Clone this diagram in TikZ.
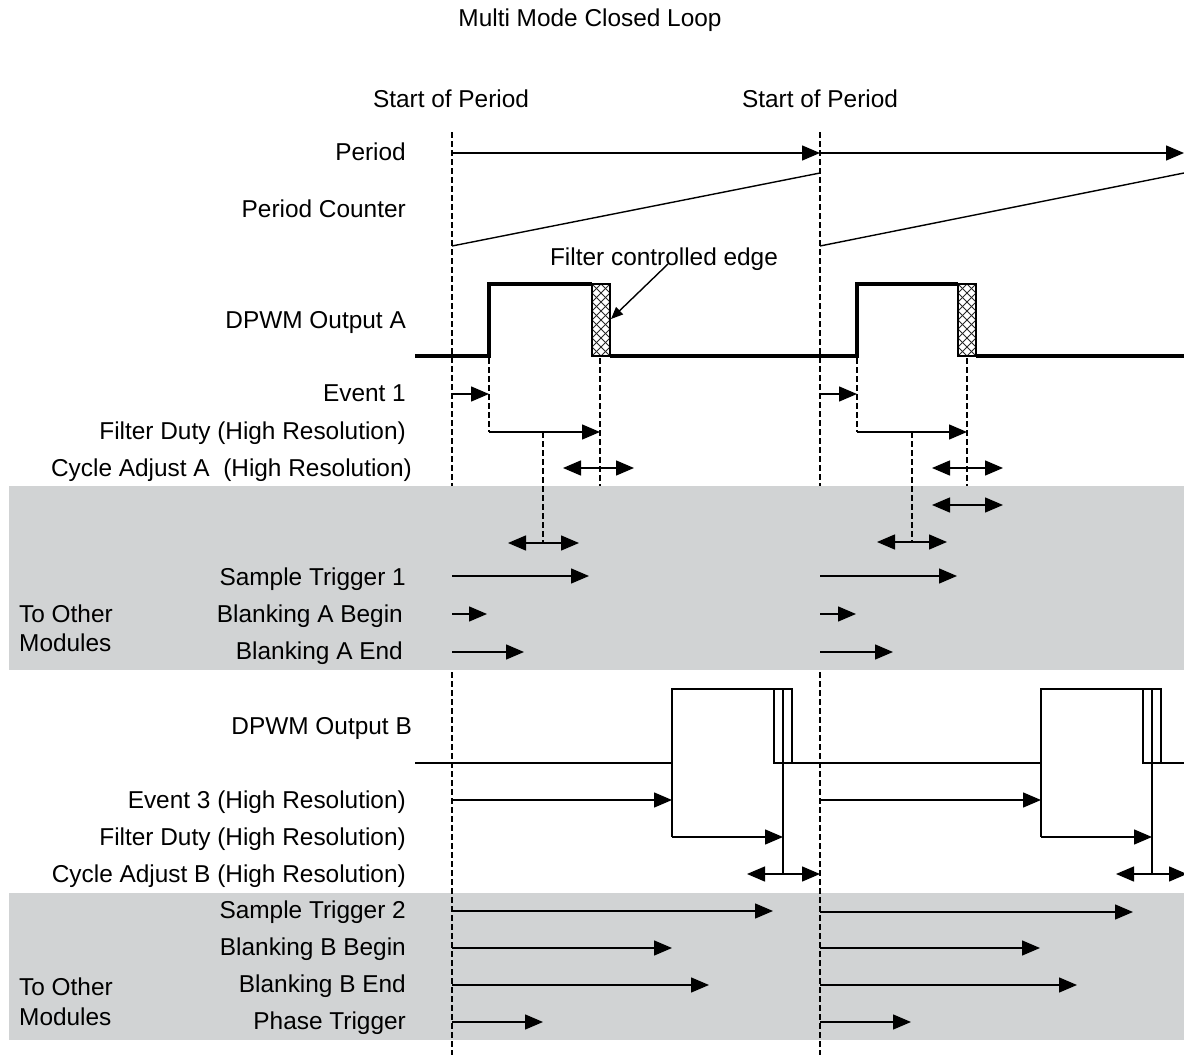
\documentclass[tikz,border=0pt]{standalone}
\usepackage{fontspec}
\setmainfont{Liberation Sans}
\usetikzlibrary{arrows.meta}
\definecolor{band}{RGB}{209,211,212}
\definecolor{hatch}{RGB}{40,40,40}
\begin{document}
\begin{tikzpicture}[x=1pt,y=-1pt,
  txt/.style={inner sep=0pt,text height=17.5pt,text depth=0pt,font=\fontsize{24.4}{29}\selectfont},
  lbl/.style={txt,anchor=east},
  lbll/.style={txt,anchor=west},
  thin/.style={line width=1.4pt},
  arr/.style={thin,-{Triangle[length=18pt,width=15pt]}},
  darr/.style={thin,{Triangle[length=18pt,width=15pt]}-{Triangle[length=18pt,width=15pt]}},
  vdash/.style={line width=2.6pt,dash pattern=on 6pt off 3pt},
  wave/.style={line width=3.6pt},
  hbox/.style={line width=1.5pt}
]
\useasboundingbox (0,0) rectangle (1184,1055);

% gray band 2 (below period dashes)
\fill[band] (9,893) rectangle (1184,1040);

% period start dashed lines
\coordinate (p1top) at (452,132);
\coordinate (p1bot) at (452,1055);
\coordinate (p2top) at (820,132);
\coordinate (p2bot) at (820,1055);
\draw[vdash] (p1top) -- (p1bot);
\draw[vdash] (p2top) -- (p2bot);

% gray band 1 (hides period dashes)
\fill[band] (9,486) rectangle (1184,670);

% texts
\node[txt] (title) at (590,18) {Multi Mode Closed Loop};
\node[txt] (sp1) at (451,99) {Start of Period};
\node[txt] (sp2) at (820,99) {Start of Period};
\node[lbl] (lper) at (406,152) {Period};
\node[lbl] (lpc) at (406,209) {Period Counter};
\node[lbl] (lda) at (406,320) {DPWM Output A};
\node[lbl] (lev1) at (406,393) {Event 1};
\node[lbl] (lfda) at (406,431) {Filter Duty (High Resolution)};
\node[lbl] (lcaa) at (412,468) {Cycle Adjust A\ \ (High Resolution)};
\node[lbl] (lst1) at (406,577) {Sample Trigger 1};
\node[lbl] (lbab) at (403,614) {Blanking A Begin};
\node[lbl] (lbae) at (403,651) {Blanking A End};
\node[lbll] (lto1) at (19,614) {To Other};
\node[lbll] (lmo1) at (19,643) {Modules};
\node[lbl] (ldb) at (412,726) {DPWM Output B};
\node[lbl] (lev3) at (406,800) {Event 3 (High Resolution)};
\node[lbl] (lfdb) at (406,837) {Filter Duty (High Resolution)};
\node[lbl] (lcab) at (406,874) {Cycle Adjust B (High Resolution)};
\node[lbl] (lst2) at (406,910) {Sample Trigger 2};
\node[lbl] (lbbb) at (406,947) {Blanking B Begin};
\node[lbl] (lbbe) at (406,984) {Blanking B End};
\node[lbl] (lpt) at (406,1021) {Phase Trigger};
\node[lbll] (lto2) at (19,987) {To Other};
\node[lbll] (lmo2) at (19,1017) {Modules};
\node[txt] (fce) at (664,257) {Filter controlled edge};

% Period arrows
\draw[arr] (452,153) -- (820,153);
\draw[arr] (820,153) -- (1184,153);

% Period counter ramps
\draw[thin] (452,246) -- (820,173);
\draw[thin] (820,246) -- (1184,173);

% DPWM Output A hatched edges
\foreach \bx in {592,958}{
  \begin{scope}
    \clip (\bx,284) rectangle (\bx+18,356);
    \foreach \k in {-10,...,10}{
      \draw[hatch,line width=0.9pt] (\bx+\k*9,284) -- ++(90,90);
      \draw[hatch,line width=0.9pt] (\bx+\k*9,284) -- ++(-90,90);
    }
  \end{scope}
  \draw[hbox] (\bx,284) rectangle (\bx+18,356);
}

% DPWM Output A waveform
\draw[wave] (415,356) -- (489,356) -- (489,284) -- (592,284);
\draw[wave] (610,356) -- (857,356) -- (857,284) -- (958,284);
\draw[wave] (976,356) -- (1184,356);

% filter controlled edge arrow
\draw[thin,-{Triangle[length=12pt,width=10pt]}] (668,264) -- (611,319);

% A timing dashes
\draw[vdash] (489,358) -- (489,432);
\draw[vdash] (600,358) -- (600,486);
\draw[vdash] (543,432) -- (543,543);
\draw[vdash] (857,358) -- (857,432);
\draw[vdash] (967,358) -- (967,486);
\draw[vdash] (912,432) -- (912,542);

% A arrows
\draw[arr] (452,394) -- (489,394);
\draw[arr] (820,394) -- (857,394);
\draw[arr] (489,432) -- (600,432);
\draw[arr] (857,432) -- (967,432);
\draw[darr] (563,468) -- (634,468);
\draw[darr] (932,468) -- (1003,468);
\draw[darr] (932,505) -- (1003,505);
\draw[darr] (508,543) -- (579,543);
\draw[darr] (877,542) -- (947,542);

% band 1 arrows
\draw[arr] (452,576) -- (589,576);
\draw[arr] (820,576) -- (957,576);
\draw[arr] (452,614) -- (487,614);
\draw[arr] (820,614) -- (856,614);
\draw[arr] (452,652) -- (524,652);
\draw[arr] (820,652) -- (893,652);

% DPWM Output B waveform
\draw[thin] (415,763) -- (672,763);
\draw[thin] (672,837) -- (672,689) -- (792,689);
\draw[thin] (774,689) rectangle (792,763);
\draw[thin] (774,763) -- (1041,763);
\draw[thin] (783,689) -- (783,874);
\draw[thin] (1041,837) -- (1041,689) -- (1161,689);
\draw[thin] (1143,689) rectangle (1161,763);
\draw[thin] (1143,763) -- (1184,763);
\draw[thin] (1152,689) -- (1152,874);

% B arrows
\draw[arr] (452,800) -- (672,800);
\draw[arr] (820,800) -- (1041,800);
\draw[arr] (672,837) -- (783,837);
\draw[arr] (1041,837) -- (1152,837);
\draw[darr] (747,874) -- (820,874);
\draw[darr] (1116,874) -- (1187,874);

% band 2 arrows
\draw[arr] (452,911) -- (773,911);
\draw[arr] (820,912) -- (1133,912);
\draw[arr] (452,948) -- (672,948);
\draw[arr] (820,948) -- (1040,948);
\draw[arr] (452,985) -- (709,985);
\draw[arr] (820,985) -- (1077,985);
\draw[arr] (452,1022) -- (543,1022);
\draw[arr] (820,1022) -- (911,1022);
\end{tikzpicture}
\end{document}
